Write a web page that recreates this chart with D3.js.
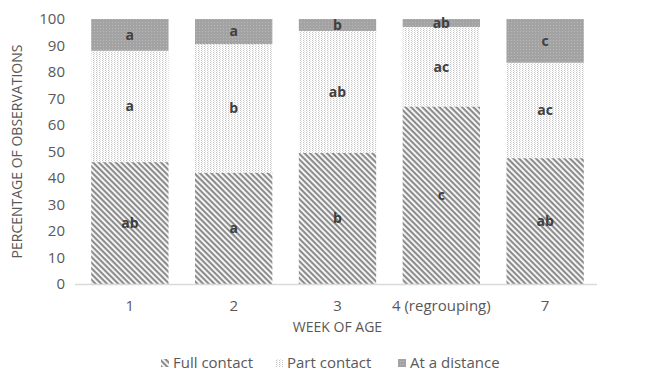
<!DOCTYPE html>
<html>
<head>
<meta charset="utf-8">
<script src="https://cdn.jsdelivr.net/npm/d3@7"></script>
<style>
  body { margin: 0; background: #fff; }
  text { font-family: "Open Sans", "Noto Sans", sans-serif; fill: #595959; }
</style>
</head>
<body>
<div id="chart"></div>
<script>
// week labels on the x axis
const weeks = ["1", "2", "3", "4 (regrouping)", "7"];
// percentages of observations per week
const fullContact = [46, 42, 49.5, 67, 47.5];
const partContact = [42, 48.5, 46, 30, 36];
const atDistance = [12, 9.5, 4.5, 3, 16.5];
// significance letters
const fullLetters = ["ab", "a", "b", "c", "ab"];
const partLetters = ["a", "b", "ab", "ac", "ac"];
const distLetters = ["a", "a", "b", "ab", "c"];
const yTicks = [0, 10, 20, 30, 40, 50, 60, 70, 80, 90, 100];
const seriesNames = ["Full contact", "Part contact", "At a distance"];

const width = 645, height = 371;
const margin = {top: 19, right: 48, bottom: 87, left: 78};

const svg = d3.select("#chart").append("svg")
  .attr("width", width)
  .attr("height", height);

const defs = svg.append("defs");

// full contact: diagonal hatching
const pFull = defs.append("pattern")
  .attr("id", "pFull")
  .attr("patternUnits", "userSpaceOnUse")
  .attr("width", 4).attr("height", 4)
  .attr("patternTransform", "rotate(45)");
pFull.append("rect").attr("width", 4).attr("height", 4).attr("fill", "#ffffff");
pFull.append("rect").attr("width", 4).attr("height", 2.2).attr("fill", "#8c8c8c");

// part contact: fine dots
const pPart = defs.append("pattern")
  .attr("id", "pPart")
  .attr("patternUnits", "userSpaceOnUse")
  .attr("width", 3).attr("height", 2);
pPart.append("rect").attr("width", 3).attr("height", 2).attr("fill", "#ffffff");
pPart.append("rect").attr("x", 0).attr("y", 0).attr("width", 1).attr("height", 1).attr("fill", "#c4c4c4");
pPart.append("rect").attr("x", 1).attr("y", 1).attr("width", 1).attr("height", 1).attr("fill", "#e0e0e0");

// at a distance: grey with faint dots
const pDist = defs.append("pattern")
  .attr("id", "pDist")
  .attr("patternUnits", "userSpaceOnUse")
  .attr("width", 3).attr("height", 3);
pDist.append("rect").attr("width", 3).attr("height", 3).attr("fill", "#a3a3a3");
pDist.append("rect").attr("x", 1).attr("y", 1).attr("width", 1).attr("height", 1).attr("fill", "#b8b8b8");

const fills = ["url(#pFull)", "url(#pPart)", "url(#pDist)"];

const x = d3.scaleBand()
  .domain(weeks)
  .range([margin.left, width - margin.right])
  .paddingInner(0.255)
  .paddingOuter(0.127);

const y = d3.scaleLinear()
  .domain([0, 100])
  .range([height - margin.bottom, margin.top]);

const rows = weeks.map((w, i) => ({week: w, full: fullContact[i], part: partContact[i], dist: atDistance[i]}));
const stack = d3.stack().keys(["full", "part", "dist"])(rows);
const letters = [fullLetters, partLetters, distLetters];

// y axis ticks
const yAxis = svg.append("g")
  .attr("transform", `translate(${margin.left - 7},0)`)
  .call(d3.axisLeft(y).tickValues(yTicks).tickSize(0).tickPadding(6));
yAxis.select(".domain").remove();
yAxis.selectAll("text").style("font-size", "15px").attr("fill", "#595959");

// bars
stack.forEach((layer, k) => {
  svg.append("g").selectAll("rect")
    .data(layer)
    .join("rect")
    .attr("x", d => x(d.data.week))
    .attr("y", d => y(d[1]))
    .attr("width", x.bandwidth())
    .attr("height", d => y(d[0]) - y(d[1]))
    .attr("fill", fills[k]);

  svg.append("g").selectAll("text")
    .data(layer)
    .join("text")
    .attr("x", d => x(d.data.week) + x.bandwidth() / 2)
    .attr("y", d => (y(d[0]) + y(d[1])) / 2)
    .attr("dy", "0.35em")
    .attr("text-anchor", "middle")
    .style("font-size", "14px")
    .style("font-weight", "bold")
    .style("fill", "#404040")
    .text((d, i) => letters[k][i]);
});

// x axis
const xAxis = svg.append("g")
  .attr("transform", `translate(0,${height - margin.bottom})`)
  .call(d3.axisBottom(x).tickSize(0).tickPadding(16));
xAxis.select(".domain").attr("stroke", "#d9d9d9").attr("stroke-width", 1.5)
  .attr("d", `M${margin.left - 3},0.5H${width - margin.right}`);
xAxis.selectAll("text").style("font-size", "15px").attr("fill", "#595959");

// axis titles
svg.append("text")
  .attr("x", (margin.left + width - margin.right) / 2)
  .attr("y", 332)
  .attr("text-anchor", "middle")
  .style("font-size", "14px")
  .text("WEEK OF AGE");

svg.append("text")
  .attr("transform", `translate(22,${(margin.top + height - margin.bottom) / 2}) rotate(-90)`)
  .attr("text-anchor", "middle")
  .style("font-size", "14px")
  .text("PERCENTAGE OF OBSERVATIONS");

// legend
const legendX = [161, 275, 398];
const legend = svg.append("g");
seriesNames.forEach((name, i) => {
  legend.append("rect")
    .attr("x", legendX[i]).attr("y", 359)
    .attr("width", 8).attr("height", 8)
    .attr("fill", fills[i]);
  legend.append("text")
    .attr("x", legendX[i] + 12).attr("y", 363)
    .attr("dy", "0.35em")
    .style("font-size", "15px")
    .text(name);
});
</script>
</body>
</html>
